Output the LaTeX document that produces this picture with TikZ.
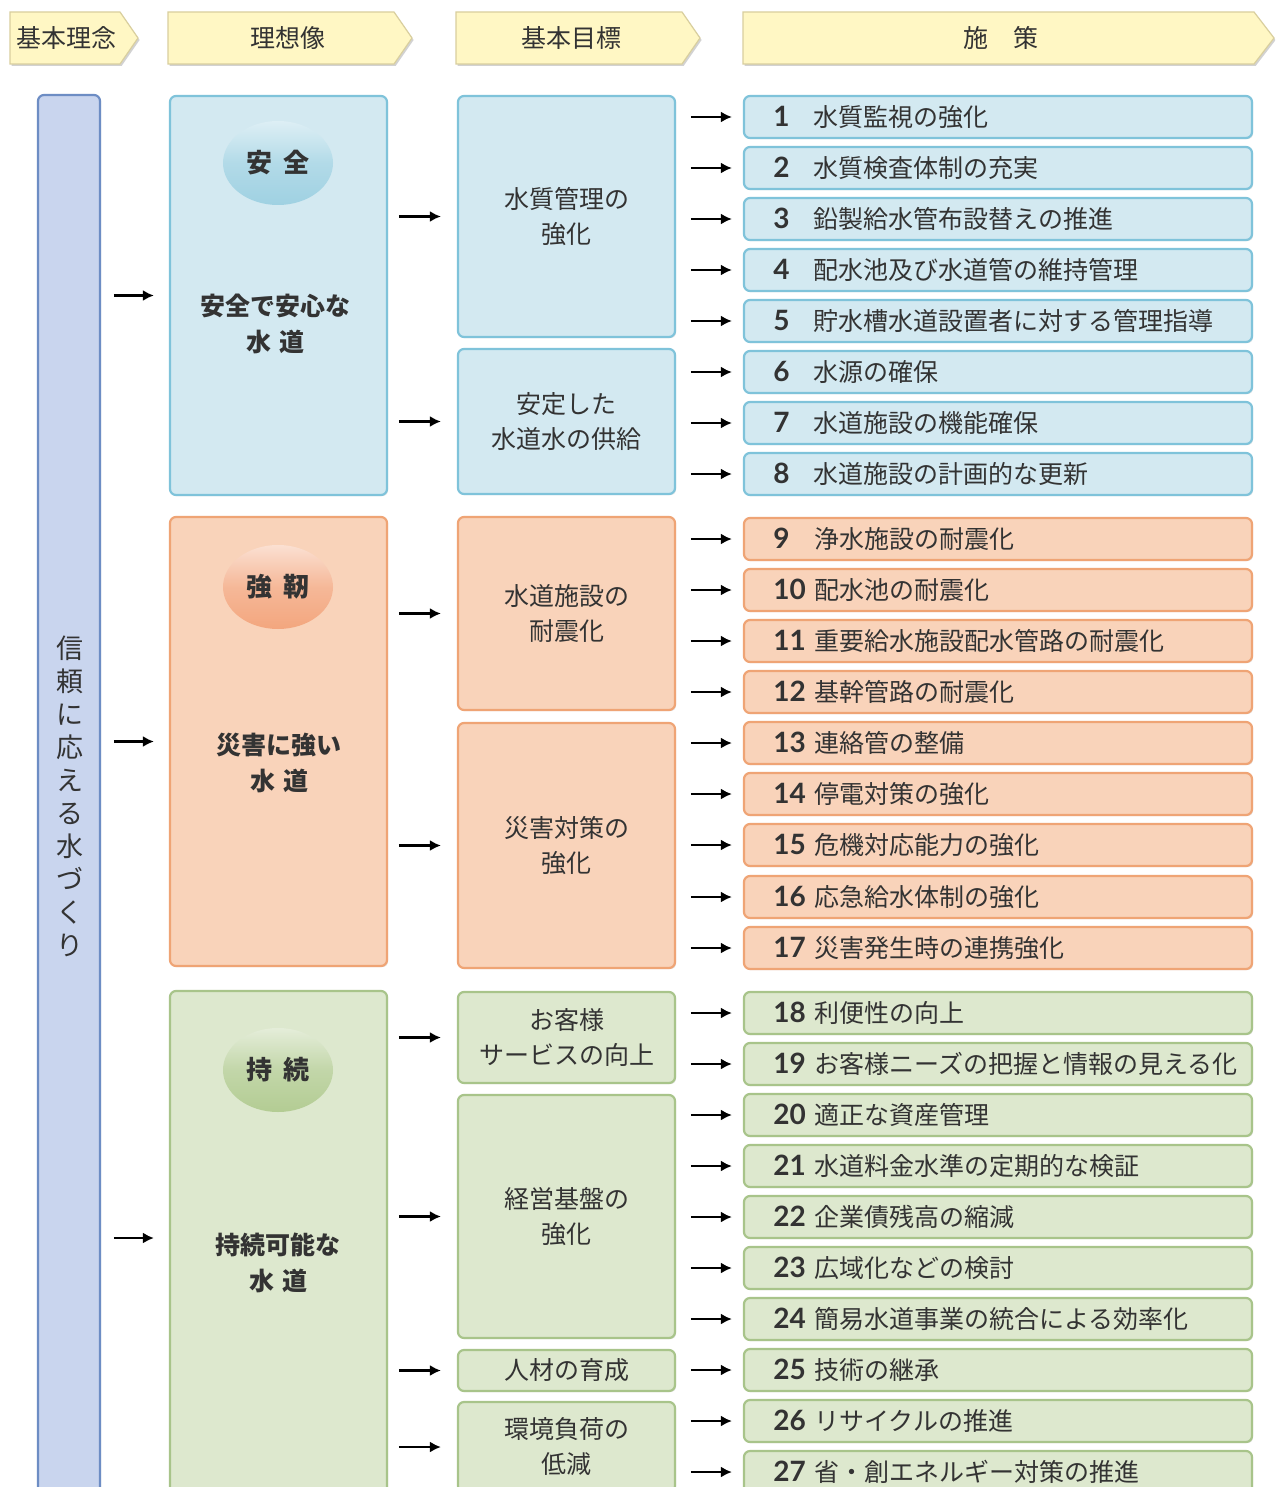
\documentclass[tikz,border=0pt]{standalone}
\usepackage{fontspec}
\setmainfont{Noto Sans CJK JP}
\newfontfamily\numfont{Lato}
\usetikzlibrary{shadows,arrows.meta,shapes.geometric}
\definecolor{txt}{HTML}{333333}
\definecolor{hdrfill}{HTML}{FFF7C4}
\definecolor{hdrline}{HTML}{D9CF9E}
\definecolor{barfill}{HTML}{C9D5EE}
\definecolor{barline}{HTML}{6D8DC4}
\definecolor{bfill}{HTML}{D3E9F1}
\definecolor{bline}{HTML}{7FC3DA}
\definecolor{ofill}{HTML}{F9D3BA}
\definecolor{oline}{HTML}{EFA475}
\definecolor{gfill}{HTML}{DDE8CE}
\definecolor{gline}{HTML}{A8C48A}
\definecolor{bov}{HTML}{9FD1E2}
\definecolor{oov}{HTML}{F3A67E}
\definecolor{gov}{HTML}{B3CC93}
\begin{document}
\begin{tikzpicture}[x=0.5pt,y=-0.5pt,
  every node/.style={text=txt},
  hdr/.style={fill=hdrfill,draw=hdrline,line width=0.6pt,
    drop shadow={opacity=0.35,shadow xshift=0.8pt,shadow yshift=-1pt}},
  hdrtext/.style={font=\fontsize{12.5}{15}\selectfont},
  box/.style={rounded corners=3pt,line width=1.1pt,inner sep=0pt,
    drop shadow={opacity=0.18,shadow xshift=0.6pt,shadow yshift=-0.6pt}},
  bbox/.style={box,fill=bfill,draw=bline},
  obox/.style={box,fill=ofill,draw=oline},
  gbox/.style={box,fill=gfill,draw=gline},
  ideal/.style={minimum width=108.5pt},
  goal/.style={minimum width=108.5pt,align=center,
    font=\fontsize{12.5}{17.5}\selectfont},
  item/.style={minimum width=254pt,minimum height=21pt},
  itemtext/.style={anchor=west,inner sep=0pt,font=\fontsize{12.5}{15}\selectfont},
  num/.style={},
  oval/.style={ellipse,minimum width=55pt,minimum height=42pt,inner sep=0pt,
    font=\fontsize{13}{15}\selectfont\bfseries},
  maintext/.style={align=center,font=\fontsize{12.5}{18}\selectfont\bfseries},
  arr/.style={line width=1.1pt,-{Latex[length=5.5pt,width=5.5pt]}}
]
\useasboundingbox (0,0) rectangle (1275,1487);
\clip (0,0) rectangle (1275,1487);
\fill[white] (0,0) rectangle (1275,1487);

% headers
\filldraw[hdr] (10,12) -- (120,12) -- (138,38) -- (120,64) -- (10,64) -- cycle;
\node[hdrtext] (h1) at (67,38) {基本理念};
\filldraw[hdr] (168,12) -- (394,12) -- (412,38) -- (394,64) -- (168,64) -- cycle;
\node[hdrtext] (h2) at (288,38) {理想像};
\filldraw[hdr] (456,12) -- (682,12) -- (700,38) -- (682,64) -- (456,64) -- cycle;
\node[hdrtext] (h3) at (571,38) {基本目標};
\filldraw[hdr] (743,12) -- (1254,12) -- (1274,38) -- (1254,64) -- (743,64) -- cycle;
\node[hdrtext] (h4) at (1001,38) {施\hspace{12.5pt}策};

% left bar
\node[box,fill=barfill,draw=barline,minimum width=31pt,minimum height=707.5pt] (bar) at (69,802.5) {};
\node[align=center,inner sep=0pt,font=\fontsize{13.5}{16.5}\selectfont] (motto) at (70,796)
  {信\\頼\\に\\応\\え\\る\\水\\づ\\く\\り};

% ideal boxes
\node[bbox,ideal,minimum height=199.5pt] (safe) at (278.5,295.5) {};
\node[obox,ideal,minimum height=224.5pt] (dis) at (278.5,741.5) {};
\node[gbox,ideal,minimum height=257pt] (sus) at (278.5,1248) {};

\node[oval,top color=bov!35!white,bottom color=bov,middle color=bov!80!white] (ov1) at (278,163) {安\hspace{6pt}全};
\node[oval,top color=oov!35!white,bottom color=oov,middle color=oov!80!white] (ov2) at (278,587) {強\hspace{6pt}靭};
\node[oval,top color=gov!35!white,bottom color=gov,middle color=gov!80!white] (ov3) at (278,1070) {持\hspace{6pt}続};

\node[maintext] (m1) at (275,324) {安全で安心な\\水\hspace{4pt}道};
\node[maintext] (m2) at (279,763) {災害に強い\\水\hspace{4pt}道};
\node[maintext] (m3) at (278,1263) {持続可能な\\水\hspace{4pt}道};

\draw[arr] ([xshift=-27.5pt]safe.west) -- ([xshift=-7.5pt]safe.west);
\draw[arr] ([xshift=-27.5pt]dis.west) -- ([xshift=-7.5pt]dis.west);
\draw[arr] ([xshift=-27.5pt,yshift=5pt]sus.west) -- ([xshift=-7.5pt,yshift=5pt]sus.west);

% goal boxes
\node[bbox,goal,minimum height=120.5pt] (g1) at (566.5,216.5) {水質管理の\\強化};
\node[bbox,goal,minimum height=72.5pt] (g2) at (566.5,421.5) {安定した\\水道水の供給};
\node[obox,goal,minimum height=96.5pt] (g3) at (566.5,613.5) {水道施設の\\耐震化};
\node[obox,goal,minimum height=122.5pt] (g4) at (566.5,845.5) {災害対策の\\強化};
\node[gbox,goal,minimum height=45.5pt] (g5) at (566.5,1037.5) {お客様\\サービスの向上};
\node[gbox,goal,minimum height=121.5pt] (g6) at (566.5,1216.5) {経営基盤の\\強化};
\node[gbox,goal,minimum height=20.5pt] (g7) at (566.5,1370.5) {人材の育成};
\node[gbox,goal,minimum height=45pt] (g8) at (566.5,1447) {環境負荷の\\低減};

\foreach \g in {g1,g2,g3,g4,g5,g6,g7,g8}
  \draw[arr] ([xshift=-29pt]\g.west) -- ([xshift=-8pt]\g.west);

% measures
\foreach \n/\y/\t in {1/117/水質監視の強化,2/168/水質検査体制の充実,3/219/鉛製給水管布設替えの推進,
  4/270/配水池及び水道管の維持管理,5/321/貯水槽水道設置者に対する管理指導,6/372/水源の確保,
  7/423/水道施設の機能確保,8/474/水道施設の計画的な更新}{
  \node[bbox,item] (item\n) at (998,\y) {};
  \node[itemtext] (t\n) at (773,\y) {\makebox[20pt][l]{\numfont\fontsize{14}{15}\selectfont\bfseries\n}\t};
  \draw[arr] ([xshift=-26pt]item\n.west) -- ([xshift=-5.5pt]item\n.west);
}
\foreach \n/\y/\t in {9/539/浄水施設の耐震化,10/590/配水池の耐震化,11/641/重要給水施設配水管路の耐震化,
  12/692/基幹管路の耐震化,13/743/連絡管の整備,14/794/停電対策の強化,15/845/危機対応能力の強化,
  16/897/応急給水体制の強化,17/948/災害発生時の連携強化}{
  \node[obox,item] (item\n) at (998,\y) {};
  \node[itemtext] (t\n) at (773,\y) {\makebox[20.5pt][l]{\numfont\fontsize{14}{15}\selectfont\bfseries\n}\t};
  \draw[arr] ([xshift=-26pt]item\n.west) -- ([xshift=-5.5pt]item\n.west);
}
\foreach \n/\y/\t in {18/1013/利便性の向上,19/1064/お客様ニーズの把握と情報の見える化,20/1115/適正な資産管理,
  21/1166/水道料金水準の定期的な検証,22/1217/企業債残高の縮減,23/1268/広域化などの検討,
  24/1319/簡易水道事業の統合による効率化,25/1370/技術の継承,26/1421/リサイクルの推進,
  27/1472/省・創エネルギー対策の推進}{
  \node[gbox,item] (item\n) at (998,\y) {};
  \node[itemtext] (t\n) at (773,\y) {\makebox[20.5pt][l]{\numfont\fontsize{14}{15}\selectfont\bfseries\n}\t};
  \draw[arr] ([xshift=-26pt]item\n.west) -- ([xshift=-5.5pt]item\n.west);
}
\end{tikzpicture}
\end{document}
